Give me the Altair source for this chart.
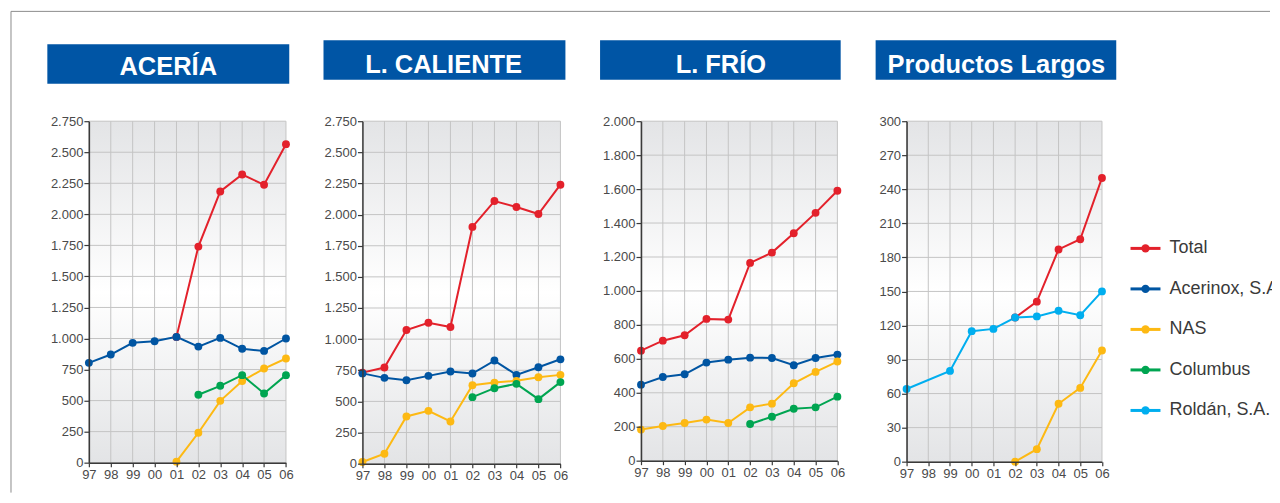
import altair as alt
import pandas as pd

# ---------------- data ----------------
years = ["97", "98", "99", "00", "01", "02", "03", "04", "05", "06"]
series_names = ["Total", "Acerinox, S.A.", "NAS", "Columbus", "Roldán, S.A."]
series_colors = ["#e3212b", "#0055a2", "#fdb913", "#00a551", "#00aeef"]
panel_titles = ["ACERÍA", "L. CALIENTE", "L. FRÍO", "Productos Largos"]

# ACERÍA
acer_total = [None, None, None, None, 1013, 1740, 2184, 2321, 2238, 2565]
acer_acerinox = [804, 871, 965, 978, 1013, 935, 1005, 917, 900, 1000]
acer_nas = [None, None, None, None, 8, 241, 498, 657, 758, 839]
acer_columbus = [None, None, None, None, None, 547, 619, 705, 557, 705]

# L. CALIENTE
lc_total = [731, 772, 1073, 1132, 1097, 1901, 2109, 2061, 2005, 2240]
lc_acerinox = [725, 689, 670, 705, 740, 724, 828, 713, 774, 838]
lc_nas = [13, 80, 379, 424, 339, 630, 651, 665, 694, 713]
lc_columbus = [None, None, None, None, None, 534, 606, 641, 518, 655]

# L. FRÍO
lf_total = [648, 707, 739, 835, 831, 1165, 1226, 1340, 1460, 1590]
lf_acerinox = [448, 493, 509, 578, 595, 607, 605, 562, 605, 625]
lf_nas = [183, 204, 222, 242, 222, 314, 336, 456, 523, 584]
lf_columbus = [None, None, None, None, None, 216, 259, 306, 314, 377]

# Productos Largos
pl_total = [None, None, None, None, None, 127, 141, 187, 196, 250]
pl_roldan = [64, None, 80, 115, 117, 127, 128, 133, 129, 150]
pl_nas = [None, None, None, None, None, 0, 11, 51, 65, 98]

ticks_2750 = [0, 250, 500, 750, 1000, 1250, 1500, 1750, 2000, 2250, 2500, 2750]
ticks_2000 = [0, 200, 400, 600, 800, 1000, 1200, 1400, 1600, 1800, 2000]
ticks_300 = [0, 30, 60, 90, 120, 150, 180, 210, 240, 270, 300]

# ---------------- style ----------------
FONT = "Liberation Sans"
GRID = "#c4c4c4"
AXIS = "#3a3a3a"
BOX = "#0055a5"
FRAME = "#8c8c8c"

gradient = alt.Gradient(
    gradient="linear",
    stops=[alt.GradientStop(color="#e3e4e6", offset=0),
           alt.GradientStop(color="#ffffff", offset=0.5),
           alt.GradientStop(color="#e3e4e6", offset=1)],
    x1=0, x2=0, y1=0, y2=1,
)
color_scale = alt.Scale(domain=series_names, range=series_colors)


def long_frame(series):
    rows = []
    for name in series_names:
        if name not in series:
            continue
        for yr, v in zip(years, series[name]):
            if v is not None:
                rows.append({"year": yr, "value": v, "series": name})
    return pd.DataFrame(rows)


def panel(title, series, ticks, view_w, plot_w, plot_h, box, text_xy, frame=False):
    ymax = ticks[-1]
    xscale = alt.Scale(type="point", domain=years, range=[0, plot_w], padding=0)
    yscale = alt.Scale(domain=[0, ymax], nice=False, zero=True)
    xenc = alt.X("year:O", sort=years, scale=xscale, title=None,
                 axis=alt.Axis(grid=False, labelAngle=0, tickSize=4, labelPadding=2,
                               labelFontSize=13, labelFont=FONT, labelColor="#4a4a4a",
                               domainColor=AXIS, tickColor=AXIS, domainWidth=1.5,
                               tickWidth=1.2, zindex=1))
    yenc = alt.Y("value:Q", scale=yscale, title=None,
                 axis=alt.Axis(values=ticks, grid=False, tickSize=5, labelPadding=1,
                               labelExpr="replace(format(datum.value, ','), ',', '.')",
                               labelFontSize=13, labelFont=FONT, labelColor="#4a4a4a",
                               domainColor=AXIS, tickColor=AXIS, domainWidth=1.5,
                               tickWidth=1.2, zindex=1))

    one = pd.DataFrame({"k": [0]})
    bg = alt.Chart(one).mark_rect(fill=gradient).encode(
        x=alt.value(0), x2=alt.value(plot_w), y=alt.value(0), y2=alt.value(plot_h))

    vgrid = alt.Chart(pd.DataFrame({"year": years})).mark_rule(
        color=GRID, strokeWidth=1).encode(x=xenc)
    hgrid = alt.Chart(pd.DataFrame({"value": ticks})).mark_rule(
        color=GRID, strokeWidth=1).encode(y=yenc, x=alt.value(0), x2=alt.value(plot_w))

    df = long_frame(series)
    cenc = alt.Color("series:N", scale=color_scale, legend=None)
    lines = alt.Chart(df).mark_line(strokeWidth=2).encode(x=xenc, y=yenc, color=cenc)
    pts = alt.Chart(df).mark_circle(size=62, opacity=1).encode(x=xenc, y=yenc, color=cenc)

    bx0, bx1, by0, by1 = box
    tbox = alt.Chart(one).mark_rect(fill=BOX).encode(
        x=alt.value(bx0), x2=alt.value(bx1), y=alt.value(by0), y2=alt.value(by1))
    ttext = alt.Chart(one).mark_text(
        text=title, font=FONT, fontSize=25.5, fontWeight="bold", color="white",
        align="center", baseline="alphabetic").encode(
        x=alt.value(text_xy[0]), y=alt.value(text_xy[1]))

    layers = [bg, vgrid, hgrid, lines, pts, tbox, ttext]
    if frame:
        ftop = alt.Chart(one).mark_rule(color=FRAME, strokeWidth=1).encode(
            x=alt.value(-78), x2=alt.value(1183), y=alt.value(-110))
        fleft = alt.Chart(one).mark_rule(color=FRAME, strokeWidth=1).encode(
            x=alt.value(-78), y=alt.value(-110), y2=alt.value(372))
        layers = [ftop, fleft] + layers
    return alt.layer(*layers).properties(width=view_w, height=plot_h)


def legend_panel(view_w, plot_h):
    ldf = pd.DataFrame({"series": series_names})
    ly = alt.Y("series:N", sort=series_names, title=None, axis=None,
               scale=alt.Scale(type="point", domain=series_names,
                               range=[127.4, 289.7], padding=0))
    lc = alt.Color("series:N", scale=color_scale, legend=None)
    lrule = alt.Chart(ldf).mark_rule(strokeWidth=3).encode(
        x=alt.value(28.3), x2=alt.value(58.3), y=ly, color=lc)
    ldot = alt.Chart(ldf).mark_circle(size=70, opacity=1).encode(
        x=alt.value(43.3), y=ly, color=lc)
    ltext = alt.Chart(ldf).mark_text(
        align="left", baseline="middle", font=FONT, fontSize=18, color="#3a3a3a",
        clip=True).encode(x=alt.value(67.3), y=ly, text="series:N")
    return alt.layer(lrule, ldot, ltext).properties(width=view_w, height=plot_h)


p1 = panel(panel_titles[0],
           {"Total": acer_total, "Acerinox, S.A.": acer_acerinox, "NAS": acer_nas,
            "Columbus": acer_columbus},
           ticks_2750, 273.4, 197.4, 342, (-41.6, 200.7, -77, -37.6), (79.5, -45.8),
           frame=True)
p2 = panel(panel_titles[1],
           {"Total": lc_total, "Acerinox, S.A.": lc_acerinox, "NAS": lc_nas,
            "Columbus": lc_columbus},
           ticks_2750, 278.3, 198.3, 343, (-39, 203.3, -81, -41.6), (81.3, -48.6))
p3 = panel(panel_titles[2],
           {"Total": lf_total, "Acerinox, S.A.": lf_acerinox, "NAS": lf_nas,
            "Columbus": lf_columbus},
           ticks_2000, 266, 196.7, 340, (-41, 200, -81, -41.6), (80, -48.6))
p4 = panel(panel_titles[3],
           {"Total": pl_total, "NAS": pl_nas, "Roldán, S.A.": pl_roldan},
           ticks_300, 195.7, 195.7, 341, (-31, 210, -81, -41.6), (90, -48.6))
p5 = legend_panel(170, 341)

chart = alt.hconcat(p1, p2, p3, p4, p5, spacing=0, bounds="flush").properties(
    padding={"left": 2, "top": 2, "right": 0, "bottom": 0},
    background="white",
).configure_view(stroke="transparent", strokeWidth=0)

chart.save("out.html", embed_options={"renderer": "svg", "actions": False})
